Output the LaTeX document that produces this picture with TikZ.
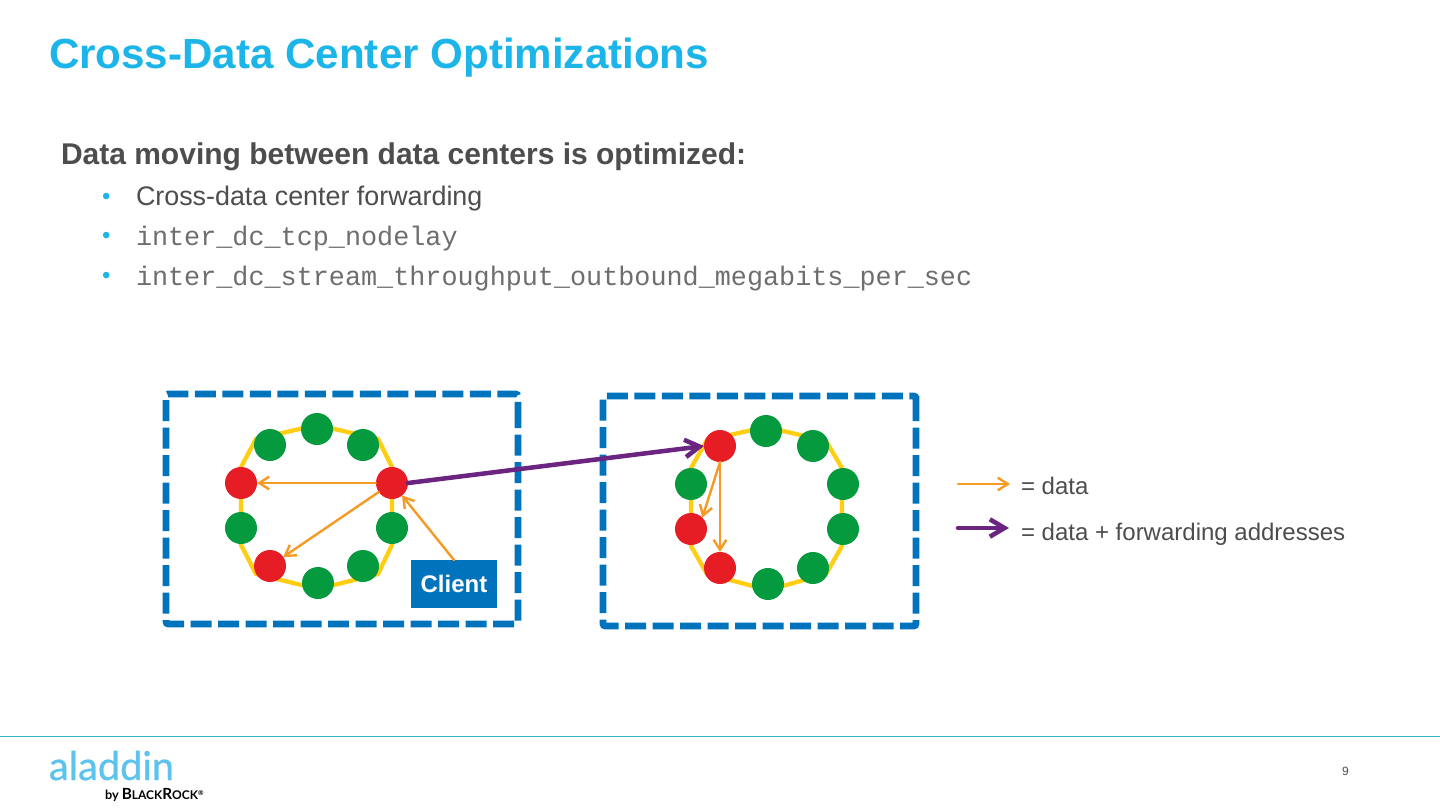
\documentclass[tikz,border=0pt]{standalone}
\usepackage{fontspec}
\setmainfont{Liberation Sans}
\setmonofont{Liberation Mono}
\newfontfamily\logofont[FakeBold=0.6]{Lato}
\newfontfamily\brandfont{Lato}
\usetikzlibrary{arrows.meta}
\definecolor{titleblue}{HTML}{1CB5EA}
\definecolor{bodygray}{HTML}{4D4D4F}
\definecolor{monogray}{HTML}{6E6E70}
\definecolor{boxblue}{HTML}{0073BD}
\definecolor{ringyellow}{HTML}{FFCD11}
\definecolor{nodegreen}{HTML}{069A3F}
\definecolor{nodered}{HTML}{E71D26}
\definecolor{dataorange}{HTML}{F59A23}
\definecolor{fwdpurple}{HTML}{692580}
\definecolor{rulecyan}{HTML}{2FB5C9}
\definecolor{logoblue}{HTML}{5CC3EE}
\tikzset{
  x=0.75pt,y=-0.75pt,
  txt/.style={anchor=base west,inner sep=0pt,outer sep=0pt},
  green node/.style={circle,fill=nodegreen,minimum size=24pt,inner sep=0pt,outer sep=0pt},
  red node/.style={circle,fill=nodered,minimum size=24pt,inner sep=0pt,outer sep=0pt},
  ring/.style={draw=ringyellow,line width=3.2pt,line join=miter},
  dcbox/.style={draw=boxblue,line width=4.9pt,dash pattern=on 15.75pt off 4.875pt,rounded corners=1.5pt},
  datarrow/.style={draw=dataorange,line width=1.8pt,line cap=round,-{Straight Barb[length=7.5pt,width=9.5pt,line width=1.8pt]}},
  fwdarrow/.style={draw=fwdpurple,line width=3.4pt,line cap=round,-{Straight Barb[length=11pt,width=13pt,line width=3.4pt]}},
}
\begin{document}
\begin{tikzpicture}
\useasboundingbox (0,0) rectangle (1440,811);
\fill[white] (0,0) rectangle (1440,811);
% texts
\node[txt,text=titleblue,font=\fontsize{31.6pt}{36pt}\selectfont\bfseries] (title) at (49,68) {Cross-Data Center Optimizations};
\node[txt,text=bodygray,font=\fontsize{22.5pt}{26pt}\selectfont\bfseries] (head) at (61,164) {Data moving between data centers is optimized:};
\node[txt,text=titleblue,font=\fontsize{18pt}{20pt}\selectfont] (b1) at (102,204) {•};
\node[txt,text=titleblue,font=\fontsize{18pt}{20pt}\selectfont] (b2) at (102,243) {•};
\node[txt,text=titleblue,font=\fontsize{18pt}{20pt}\selectfont] (b3) at (102,283) {•};
\node[txt,text=bodygray,font=\fontsize{20.15pt}{24pt}\selectfont] (l1) at (136,205) {Cross-data center forwarding};
\node[txt,text=monogray,font=\fontsize{20.1pt}{24pt}\selectfont\ttfamily] (l2) at (136,245) {inter\_dc\_tcp\_nodelay};
\node[txt,text=monogray,font=\fontsize{20.1pt}{24pt}\selectfont\ttfamily] (l3) at (136,285) {inter\_dc\_stream\_throughput\_outbound\_megabits\_per\_sec};
% boxes
\draw[dcbox] (518,405) -- (518,624) -- (166,624) -- (166,394) -- (518,394) -- cycle;
\draw[dcbox] (916,398) -- (916,626) -- (603,626) -- (603,396) -- (916,396) -- cycle;
% rings (drawn as polygons behind the nodes)
\draw[ring] (241,467) -- (256,439) -- (317,425) -- (378,439) -- (392,467) -- (392,545) -- (378,574) -- (318,589) -- (256,574) -- (241,545) -- cycle;
\draw[ring] (691,468) -- (707,440) -- (766,427) -- (826,441) -- (842,468) -- (842,546) -- (826,574) -- (768,590) -- (707,574) -- (691,546) -- cycle;
% left ring nodes
\node[green node] (a0) at (317,429) {};
\node[green node] (a1) at (363,445) {};
\node[red node]   (a2) at (392,483) {};
\node[green node] (a3) at (392,528) {};
\node[green node] (a4) at (363,566) {};
\node[green node] (a5) at (318,583) {};
\node[red node]   (a6) at (270,566) {};
\node[green node] (a7) at (241,528) {};
\node[red node]   (a8) at (241,483) {};
\node[green node] (a9) at (270,445) {};
% right ring nodes
\node[green node] (c0) at (766,431) {};
\node[green node] (c1) at (813,446) {};
\node[green node] (c2) at (843,484) {};
\node[green node] (c3) at (843,529) {};
\node[green node] (c4) at (813,568) {};
\node[green node] (c5) at (768,584) {};
\node[red node]   (c6) at (720,568) {};
\node[red node]   (c7) at (691,529) {};
\node[green node] (c8) at (691,484) {};
\node[red node]   (c9) at (720,446) {};
% client
\node[fill=boxblue,text=white,font=\fontsize{18pt}{20pt}\selectfont\bfseries,minimum width=64.5pt,minimum height=36pt,inner sep=0pt,outer sep=0pt] (client) at (454,584) {Client};
% connectors
\draw[datarrow] (a2) -- (a8);
\draw[datarrow] (a2) -- (a6);
\draw[datarrow] (client.north) -- (a2);
\draw[datarrow] (c9.south) -- (c7.45);
\draw[datarrow] (c9.south) -- (c6.north);
\draw[fwdarrow] (a2.east) -- (c9.west);
% legend
\coordinate (k1a) at (958,484);
\coordinate (k1b) at (1010,484);
\coordinate (k2a) at (958,528);
\coordinate (k2b) at (1009,528);
\draw[datarrow] (k1a) -- (k1b);
\draw[fwdarrow] (k2a) -- (k2b);
\node[txt,text=bodygray,font=\fontsize{18pt}{20pt}\selectfont] (t1) at (1021,494) {= data};
\node[txt,text=bodygray,font=\fontsize{18pt}{20pt}\selectfont] (t2) at (1021,540) {= data + forwarding addresses};
% footer
\coordinate (ra) at (0,736);
\coordinate (rb) at (1440,736);
\draw[rulecyan,line width=0.75pt] (ra) -- (rb);
\node[txt,text=logoblue,font=\logofont\fontsize{29.8pt}{30pt}\selectfont] (logo) at (49,780) {aladdin};
\node[txt,text=logoblue,font=\brandfont\fontsize{5pt}{6pt}\selectfont] (logor) at (170,763) {.};
\node[txt,text=black,font=\brandfont\bfseries\fontsize{9.5pt}{10pt}\selectfont] (logob) at (105,799) {by {\fontsize{11.5pt}{12pt}\selectfont B}{\fontsize{9pt}{10pt}\selectfont LACK}{\fontsize{11.5pt}{12pt}\selectfont R}{\fontsize{9pt}{10pt}\selectfont OCK}\raisebox{3pt}{\fontsize{5pt}{6pt}\selectfont ®}};
\node[txt,text=bodygray,font=\fontsize{9pt}{10pt}\selectfont] (pg) at (1342,775) {9};
\end{tikzpicture}
\end{document}
